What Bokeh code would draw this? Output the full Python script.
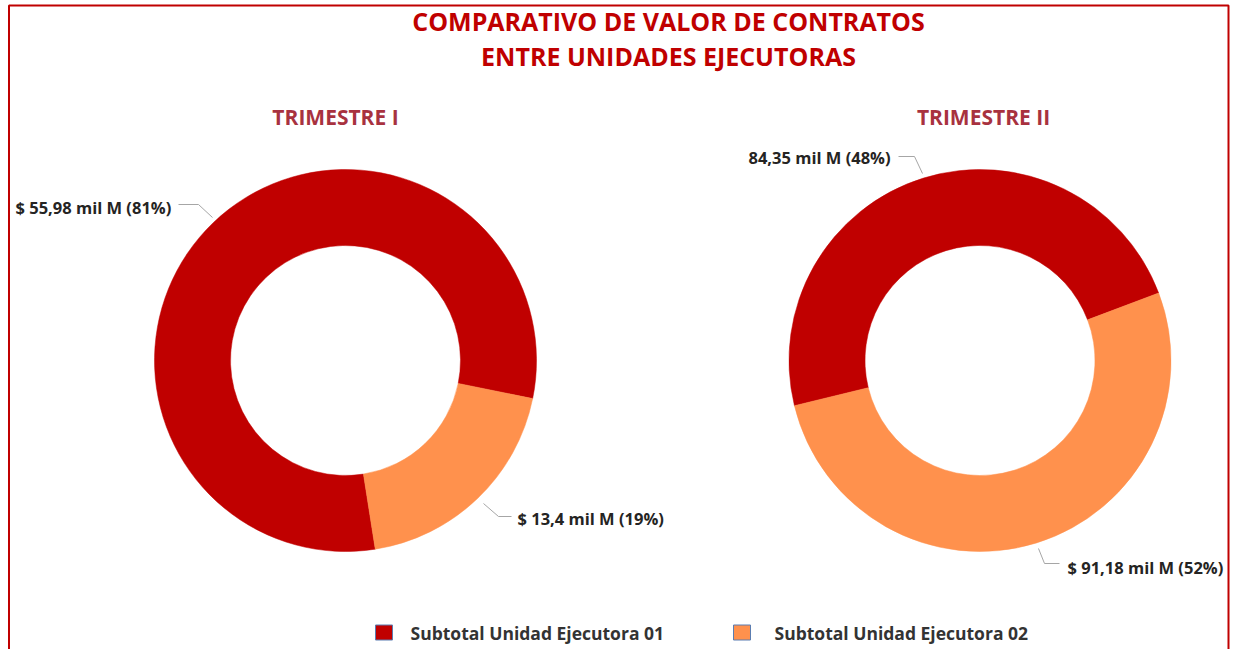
import math
from bokeh.plotting import figure
from bokeh.models import Range1d, ColumnDataSource, BoxAnnotation
from bokeh.core.properties import value
from bokeh.embed import file_html
from bokeh.resources import INLINE

# ---- data ----
categories = ["Subtotal Unidad Ejecutora 01", "Subtotal Unidad Ejecutora 02"]
trimestres = ["TRIMESTRE I", "TRIMESTRE II"]
q1_values = [55.98, 13.4]
q2_values = [84.35, 91.18]
q1_labels = ["$ 55,98 mil M (81%)", "$ 13,4 mil M (19%)"]
q2_labels = ["84,35 mil M (48%)", "$ 91,18 mil M (52%)"]
colors = ["#C00000", "#FF914D"]
title_lines = ["COMPARATIVO DE VALOR DE CONTRATOS", "ENTRE UNIDADES EJECUTORAS"]

W, H = 1233, 649
FONT = "Open Sans"


def fx(px):
    return px


def fy(py):
    return H - py


p = figure(width=W, height=H, x_range=Range1d(0, W), y_range=Range1d(0, H),
           output_backend="svg", toolbar_location=None, min_border=0)
p.axis.visible = False
p.grid.visible = False
p.outline_line_color = None
p.background_fill_color = "white"

# frame border
p.add_layout(BoxAnnotation(left=fx(8.5), right=fx(1228), top=fy(5), bottom=fy(700),
                           fill_alpha=0, line_color="#C00000", line_alpha=1.0,
                           line_width=2))

# titles
p.text(x=[fx(668)] * 2, y=[fy(20), fy(55)], text=title_lines,
       text_align="center", text_baseline="middle",
       text_font=value(FONT), text_font_style="bold", text_font_size="25px",
       text_color="#C00000")
p.text(x=[fx(335), fx(983)], y=[fy(116), fy(116)], text=trimestres,
       text_align="center", text_baseline="middle",
       text_font=value(FONT), text_font_style="bold", text_font_size="21px",
       text_color="#A8323F")

# donuts
centers = [(fx(345), fy(360)), (fx(979.5), fy(360))]
start_deg = [-11.5, 20.7]
for (cx, cy), vals, st in zip(centers, [q1_values, q2_values], start_deg):
    total = sum(vals)
    starts, ends = [], []
    a = math.radians(st)
    for v in vals:
        starts.append(a)
        a = a + 2 * math.pi * v / total
        ends.append(a)
    src = ColumnDataSource(dict(x=[cx] * len(vals), y=[cy] * len(vals),
                                s=starts, e=ends, c=colors))
    p.annular_wedge(x="x", y="y", inner_radius=115, outer_radius=191,
                    start_angle="s", end_angle="e", fill_color="c",
                    line_color="c", line_width=0.5, source=src)

# leader lines
lx = [[178, 198, 212], [483, 498, 511], [898, 914, 922], [1038, 1044, 1059]]
ly = [[204, 204, 217], [503, 516, 516], [156, 156, 173], [548, 563, 563]]
p.multi_line(xs=[[fx(v) for v in r] for r in lx],
             ys=[[fy(v) for v in r] for r in ly],
             line_color="#A6A6A6", line_width=1)

# data labels
lab_x = [fx(15), fx(517), fx(748), fx(1067)]
lab_y = [fy(207), fy(518), fy(157), fy(567)]
p.text(x=lab_x, y=lab_y, text=q1_labels + q2_labels,
       text_align="left", text_baseline="middle",
       text_font=value(FONT), text_font_style="bold", text_font_size="16.5px",
       text_color="#252423")

# legend
p.rect(x=[fx(383.5), fx(741.5)], y=[fy(632)] * 2, width=17, height=15,
       fill_color=colors, line_color="#5B7DB1", line_width=1)
p.text(x=[fx(410), fx(774)], y=[fy(632)] * 2, text=categories,
       text_align="left", text_baseline="middle",
       text_font=value(FONT), text_font_style="bold", text_font_size="17.5px",
       text_color="#333333")

open("out.html", "w").write(file_html(p, INLINE))
